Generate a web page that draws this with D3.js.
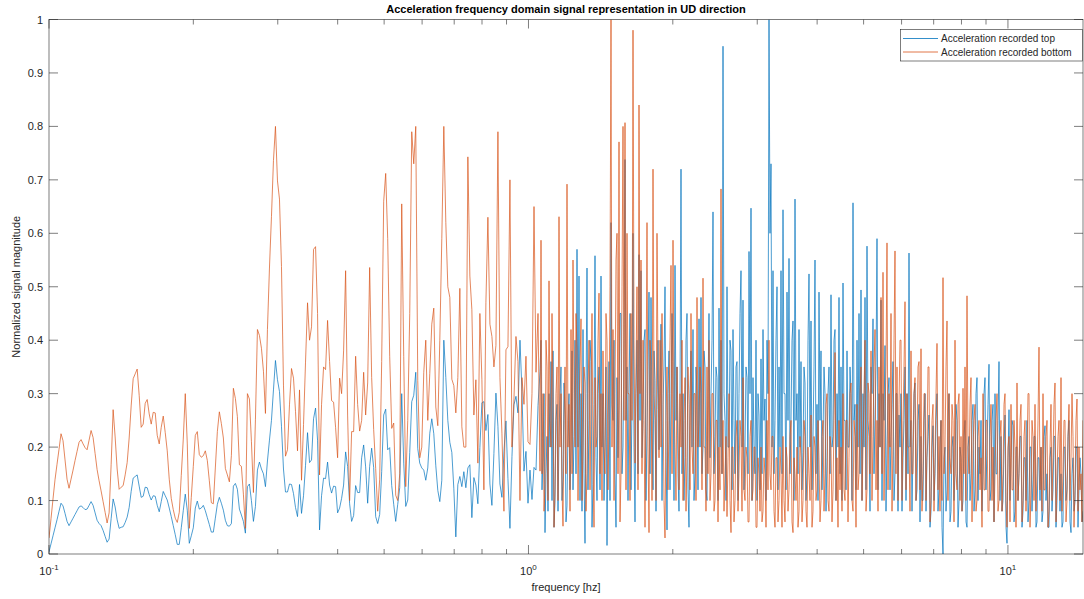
<!DOCTYPE html>
<html><head><meta charset="utf-8">
<script src="https://cdn.jsdelivr.net/npm/d3@7/dist/d3.min.js"></script>
<style>
body{margin:0;background:#fff}
text{font-family:"Liberation Sans",Arial,Helvetica,sans-serif;fill:#262626}
</style>
</head><body>
<svg id="chart" width="1084" height="599"></svg>
<script>
const chartTitle = "Acceleration frequency domain signal representation in UD direction";
const xLabel = "frequency [hz]";
const yLabel = "Normalized signal magnitude";
const seriesNames = ["Acceleration recorded top", "Acceleration recorded bottom"];
const freqMin = 0.1, freqSplit = 1.057, freqMax = 14.34;
const xMajorTicks = [0.1, 1, 10];
const xMajorLabels = [["10","-1"],["10","0"],["10","1"]];
const yTicks = [0,0.1,0.2,0.3,0.4,0.5,0.6,0.7,0.8,0.9,1];
const yTickLabels = ["0","0.1","0.2","0.3","0.4","0.5","0.6","0.7","0.8","0.9","1"];

// recorded top: log-spaced samples 0.1 .. freqSplit
const topLow = [
.004,.019,.034,.049,.064,.080,.095,.090,.076,.061,
.053,.060,.067,.074,.081,.088,.090,.087,.083,.084,
.091,.098,.091,.077,.063,.057,.053,.044,.033,.022,
.028,.066,.103,.088,.064,.048,.050,.051,.059,.069,
.087,.117,.142,.145,.148,.127,.106,.108,.125,.124,
.111,.101,.109,.108,.091,.079,.098,.117,.109,.101,
.086,.070,.053,.036,.018,.018,.049,.081,.112,.082,
.020,.034,.049,.086,.099,.084,.086,.091,.081,.068,
.055,.041,.041,.067,.093,.106,.095,.082,.063,.053,
.052,.057,.127,.132,.121,.084,.073,.061,.039,.126,
.131,.100,.061,.089,.157,.172,.159,.150,.126,.174,
.213,.250,.307,.362,.326,.304,.239,.159,.116,.116,
.131,.130,.113,.087,.070,.130,
.076,.109,.166,.227,.171,.176,.253,.273,.213,.045,
.109,.142,.141,.172,.129,.114,.127,.126,.077,.086,
.104,.129,.191,.164,.094,.061,.072,.128,.115,.115,
.180,.204,.163,.095,.164,.198,.162,.070,.057,.074,
.154,.260,.271,.195,.199,.128,.093,.061,.093,.124,
.300,.170,.089,.101,.190,.285,.297,.340,.197,.170,
.161,.157,.138,.161,.226,.253,.225,.165,.119,.098,
.138,.400,.330,.250,.209,.190,.122,.032,.130,.145,
.126,.154,.124,.161,.167,.068,.143,.129,.094,.199,
.283,.285,.231,.261,.131,.091,.188,.301,.239,.131,
.106,.191,.249,.141,.048,.182,.279,.295,.264,.400,
.304,.155,.192,.095,.157,.102,.162,.157,.278,.341
];
// recorded top: denser log-spaced samples freqSplit .. 14.34
const topHigh = [
.40,.12,.18,.30,.04,.15,.22,.08,.30,.20,.36,.10,.38,.05,.10,.25,.28,.08,.22,.30,
.35,.10,.14,.32,.26,.06,.09,.25,.30,.12,.20,.38,.12,.22,.40,.15,.57,.20,.52,.10,
.30,.08,.42,.15,.02,.30,.535,.12,.25,.40,.36,.05,.13,.28,.558,.18,.10,.30,.35,.12,
.52,.20,.30,.10,.20,.35,.016,.22,.36,.10,.62,.28,.25,.40,.15,.05,.33,.18,.29,.45,
.45,.15,.20,.40,.738,.25,.35,.10,.30,.45,.12,.28,.60,.20,.06,.30,.40,.15,.56,.25,
.53,.18,.25,.40,.42,.10,.23,.35,.49,.15,.48,.25,.12,.38,.325,.08,.27,.40,.195,.30,
.43,.10,.28,.35,.50,.20,.045,.30,.38,.12,.30,.45,.36,.10,.54,.25,.35,.15,.08,.30,
.72,.15,.30,.10,.18,.40,.45,.12,.05,.30,.38,.20,.42,.10,.15,.35,.30,.12,.44,.20,
.48,.15,.20,.38,.35,.12,.10,.30,.45,.18,.30,.40,.64,.15,.22,.35,.33,.10,.46,.20,
.40,.15,.95,.30,.25,.10,.50,.20,.20,.40,.38,.12,.42,.25,.15,.35,.36,.10,.30,.45,
.53,.20,.475,.12,.20,.35,.33,.15,.566,.30,.647,.10,.33,.20,.15,.40,.10,.30,.26,.12,
.365,.15,.42,.25,.29,.10,.40,.30,1.0,.60,.73,.20,.53,.15,.25,.40,.50,.12,.35,.20,
.53,.15,.644,.30,.30,.12,.49,.25,.553,.15,.25,.40,.436,.10,.664,.25,.30,.15,.42,.20,
.36,.12,.19,.35,.32,.10,.15,.40,.524,.20,.436,.12,.22,.35,.55,.15,.28,.10,.49,.25,
.38,.12,.22,.35,.30,.08,.18,.30,.35,.15,.485,.20,.22,.40,.42,.10,.30,.20,.48,.15,
.35,.10,.507,.25,.25,.12,.38,.20,.20,.35,.30,.10,.657,.25,.28,.12,.40,.20,.45,.15,
.494,.10,.30,.20,.48,.12,.576,.25,.22,.08,.35,.30,.44,.15,.25,.35,.59,.12,.30,.20,
.475,.10,.30,.25,.39,.08,.20,.30,.33,.12,.22,.28,.36,.10,.15,.30,.30,.08,.26,.20,
.30,.08,.18,.25,.35,.10,.30,.15,.563,.20,.25,.08,.20,.30,.32,.10,.12,.25,.28,.06,
.22,.10,.10,.25,.30,.08,.18,.22,.26,.05,.08,.20,.24,.10,.15,.25,.30,.08,.12,.20,
.25,.05,0,.18,.20,.08,.12,.25,.30,.06,.08,.20,.22,.10,.15,.28,.25,.05,.10,.20,
.18,.08,.10,.22,.25,.06,.05,.20,.22,.10,.15,.25,.28,.08,.12,.30,.33,.10,.20,.15,
.25,.08,.15,.30,.33,.12,.20,.28,.355,.10,.12,.25,.28,.06,.30,.15,.15,.25,.36,.10,
.22,.08,.10,.20,.26,.05,.02,.18,.27,.10,.18,.25,.24,.06,.08,.20,.20,.10,.15,.22,
.22,.05,.08,.18,.18,.10,.25,.06,.10,.20,.20,.08,.14,.22,.22,.05,.06,.18,.18,.10,
.20,.06,.08,.22,.24,.10,.15,.05,.05,.18,.20,.08,.12,.22,.22,.05,.10,.18,.18,.08,
.15,.05,.06,.20,.20,.10,.12,.22,.25,.06,.04,.15,.18,.08,.10,.20,.20,.05,.12,.18,
.15,.06,.08
];

// recorded bottom: log-spaced samples 0.1 .. freqSplit
const bottomLow = [
.030,.066,.103,.139,.168,.196,.225,.212,.176,.140,
.123,.140,.157,.175,.192,.209,.214,.206,.199,.195,
.213,.231,.218,.188,.158,.137,.118,.098,.078,.058,
.077,.167,.270,.219,.159,.121,.125,.128,.148,.171,
.217,.277,.328,.337,.346,.297,.237,.243,.282,.289,
.262,.243,.265,.264,.222,.206,.237,.258,.227,.193,
.140,.104,.083,.067,.059,.078,.147,.215,.300,.206,
.048,.106,.164,.222,.229,.186,.181,.184,.193,.175,
.137,.096,.094,.161,.229,.266,.244,.217,.160,.148,
.135,.184,.310,.291,.257,.167,.164,.112,.048,.300,
.290,.211,.115,.251,.420,.409,.385,.342,.263,.420,
.535,.631,.736,.800,.698,.664,.538,.316,.183,.195,
.279,.347,.329,.267,.193,.307,
.138,.242,.359,.470,.400,.425,.570,.575,.450,.148,
.280,.350,.345,.437,.360,.287,.284,.237,.180,.329,
.300,.380,.530,.260,.100,.229,.229,.370,.280,.230,
.250,.340,.260,.320,.536,.330,.233,.160,.080,.140,
.360,.660,.712,.590,.370,.235,.245,.110,.100,.150,
.655,.370,.126,.250,.450,.790,.730,.800,.325,.180,
.200,.340,.400,.250,.338,.430,.460,.275,.240,.400,
.590,.800,.620,.500,.480,.327,.315,.264,.330,.497,
.238,.200,.200,.743,.520,.457,.260,.326,.170,.450,
.326,.120,.470,.630,.430,.407,.350,.390,.790,.330,
.226,.080,.382,.388,.700,.200,.290,.407,.360,.100,
.330,.280,.370,.210,.205,.300,.650,.340,.450,.155
];
// recorded bottom: denser log-spaced samples freqSplit .. 14.34
const bottomHigh = [
.587,.15,.30,.08,.13,.40,.35,.10,.511,.25,.20,.45,.29,.05,.12,.30,.35,.10,.631,.20,
.30,.12,.052,.25,.35,.15,.692,.20,.28,.08,.42,.15,.55,.30,.20,.45,.38,.10,.25,.35,
.44,.10,.20,.35,.32,.08,.15,.30,.40,.12,.28,.45,.18,.05,.33,.20,.22,.40,.488,.15,
.30,.10,.38,.20,.15,.45,.40,.12,.25,.50,1.0,.20,.42,.10,.30,.55,.60,.15,.771,.06,
.15,.50,.80,.25,.807,.12,.60,.30,.30,.10,.45,.25,.98,.40,.17,.35,.50,.12,.84,.30,
.55,.15,.40,.25,.05,.30,.62,.20,.04,.40,.35,.10,.72,.30,.25,.10,.60,.35,.18,.40,
.20,.45,.30,.10,.03,.25,.35,.12,.25,.40,.54,.15,.587,.30,.20,.10,.35,.25,.12,.30,
.20,.40,.10,.25,.33,.08,.18,.35,.28,.12,.45,.20,.15,.30,.30,.10,.48,.20,.25,.35,
.30,.12,.516,.20,.20,.08,.35,.15,.40,.10,.15,.30,.30,.08,.10,.25,.25,.06,.20,.12,
.683,.15,.25,.08,.15,.22,.07,.18,.30,.10,.04,.20,.20,.06,.10,.22,.25,.08,.15,.25,
.22,.08,.33,.12,.10,.20,.18,.06,.06,.22,.25,.10,.12,.20,.20,.05,.05,.18,.15,.08,
.20,.06,.08,.18,.15,.05,.25,.12,.40,.15,.12,.22,.22,.08,.05,.18,.18,.06,.10,.20,
.15,.05,.22,.10,.06,.20,.18,.08,.12,.22,.25,.06,.04,.18,.15,.10,.20,.05,.08,.22,
.18,.06,.10,.25,.22,.08,.05,.20,.15,.10,.26,.05,.08,.22,.20,.10,.12,.25,.18,.06,
.10,.22,.25,.08,.15,.28,.30,.10,.08,.22,.20,.06,.12,.25,.377,.10,.18,.05,.25,.12,
.20,.08,.30,.12,.10,.25,.25,.06,.18,.30,.32,.10,.08,.25,.22,.05,.28,.12,.15,.30,
.35,.10,.20,.30,.40,.08,.12,.32,.30,.15,.38,.10,.22,.35,.42,.12,.25,.08,.35,.20,
.48,.15,.527,.10,.25,.35,.582,.12,.30,.20,.45,.08,.20,.40,.567,.15,.35,.10,.28,.40,
.40,.10,.25,.35,.472,.12,.30,.20,.20,.08,.38,.15,.15,.30,.33,.10,.22,.35,.36,.12,
.384,.08,.15,.30,.30,.10,.20,.35,.35,.06,.10,.25,.28,.08,.18,.30,.394,.12,.22,.08,
.25,.10,.517,.15,.20,.35,.436,.10,.30,.18,.15,.28,.25,.06,.40,.15,.12,.28,.30,.10,
.22,.08,.31,.15,.35,.10,.483,.20,.15,.28,.33,.06,.20,.25,.28,.08,.10,.22,.25,.12,
.18,.05,.30,.12,.12,.25,.25,.08,.08,.22,.28,.10,.20,.06,.15,.25,.30,.08,.10,.22,
.25,.08,.15,.28,.30,.10,.05,.20,.22,.06,.28,.12,.12,.25,.20,.05,.32,.10,.15,.25,
.28,.06,.10,.22,.25,.08,.18,.30,.30,.05,.12,.25,.22,.10,.28,.08,.15,.25,.387,.12,
.20,.08,.30,.12,.12,.22,.25,.05,.08,.20,.28,.10,.18,.28,.32,.06,.15,.22,.25,.10,
.33,.08,.15,.25,.25,.06,.10,.22,.28,.10,.18,.30,.22,.05,.12,.25,.29,.08,.20,.12,
.15,.06,.25
];

const seriesColors = ["#0072BD", "#D95319"];

const svg = d3.select("#chart");
const plot = {left: 49, right: 1083, top: 19.5, bottom: 554};
const x = d3.scaleLog().domain([freqMin, freqMax]).range([plot.left, plot.right]);
const y = d3.scaleLinear().domain([0, 1]).range([plot.bottom, plot.top]);

svg.append("rect").attr("width", 1084).attr("height", 599).attr("fill", "#fff");
svg.append("defs").append("clipPath").attr("id", "clip")
  .append("rect").attr("x", plot.left).attr("y", plot.top)
  .attr("width", plot.right - plot.left).attr("height", plot.bottom - plot.top);

// geometric sample grid between f0 and f1 with n points (inclusive)
function geomGrid(f0, f1, n) {
  return d3.range(n).map(i => f0 * Math.pow(f1 / f0, i / (n - 1)));
}
function buildSeries(low, high) {
  const fl = geomGrid(freqMin, freqSplit, low.length);
  const fh = geomGrid(freqSplit, freqMax, high.length + 1).slice(1);
  return low.map((v, i) => ({f: fl[i], v})).concat(high.map((v, i) => ({f: fh[i], v})));
}
const series = [buildSeries(topLow, topHigh), buildSeries(bottomLow, bottomHigh)];

const line = d3.line().x(d => x(d.f)).y(d => y(d.v));
series.forEach((s, k) => {
  svg.append("path").datum(s)
    .attr("clip-path", "url(#clip)")
    .attr("fill", "none").attr("stroke", seriesColors[k])
    .attr("stroke-width", 0.7).attr("stroke-linejoin", "round")
    .attr("d", line);
});

// axes box
const axisColor = "#262626";
const g = svg.append("g").attr("stroke", axisColor).attr("stroke-width", 0.6).attr("fill", "none");
g.append("rect").attr("x", plot.left).attr("y", plot.top)
  .attr("width", plot.right - plot.left).attr("height", plot.bottom - plot.top);

const xAll = x.ticks().filter(t => t >= freqMin && t <= freqMax);
xAll.forEach(t => {
  const major = xMajorTicks.some(m => Math.abs(m - t) < 1e-9);
  const len = major ? 9 : 5;
  const px = x(t);
  g.append("line").attr("x1", px).attr("x2", px).attr("y1", plot.bottom).attr("y2", plot.bottom - len);
  g.append("line").attr("x1", px).attr("x2", px).attr("y1", plot.top).attr("y2", plot.top + len);
});
yTicks.forEach(t => {
  const py = y(t);
  g.append("line").attr("x1", plot.left).attr("x2", plot.left + 9).attr("y1", py).attr("y2", py);
  g.append("line").attr("x1", plot.right).attr("x2", plot.right - 9).attr("y1", py).attr("y2", py);
});

yTicks.forEach((t, i) => {
  svg.append("text").attr("x", plot.left - 6).attr("y", y(t) + 4)
    .attr("text-anchor", "end").attr("font-size", 11).text(yTickLabels[i]);
});
xMajorTicks.forEach((t, i) => {
  const txt = svg.append("text").attr("x", x(t)).attr("y", 575)
    .attr("text-anchor", "middle").attr("font-size", 11);
  txt.append("tspan").text(xMajorLabels[i][0]);
  txt.append("tspan").attr("dy", -5).attr("font-size", 8).text(xMajorLabels[i][1]);
});

svg.append("text").attr("x", (plot.left + plot.right) / 2).attr("y", 591)
  .attr("text-anchor", "middle").attr("font-size", 11).text(xLabel);
svg.append("text").attr("transform", `translate(20,${(plot.top + plot.bottom) / 2}) rotate(-90)`)
  .attr("text-anchor", "middle").attr("font-size", 11).text(yLabel);
svg.append("text").attr("x", (plot.left + plot.right) / 2).attr("y", 13)
  .attr("text-anchor", "middle").attr("font-size", 11).attr("font-weight", "bold")
  .style("fill", "#000").text(chartTitle);

const lg = svg.append("g");
lg.append("rect").attr("x", 900.5).attr("y", 29.5).attr("width", 182).attr("height", 31.5)
  .attr("fill", "#fff").attr("stroke", axisColor).attr("stroke-width", 0.6);
seriesNames.forEach((name, i) => {
  const ly = 38.5 + i * 13.5;
  lg.append("line").attr("x1", 903).attr("x2", 938).attr("y1", ly).attr("y2", ly)
    .attr("stroke", seriesColors[i]).attr("stroke-width", 0.8);
  lg.append("text").attr("x", 941).attr("y", ly + 3.5).attr("font-size", 10).text(name);
});
</script>
</body></html>
